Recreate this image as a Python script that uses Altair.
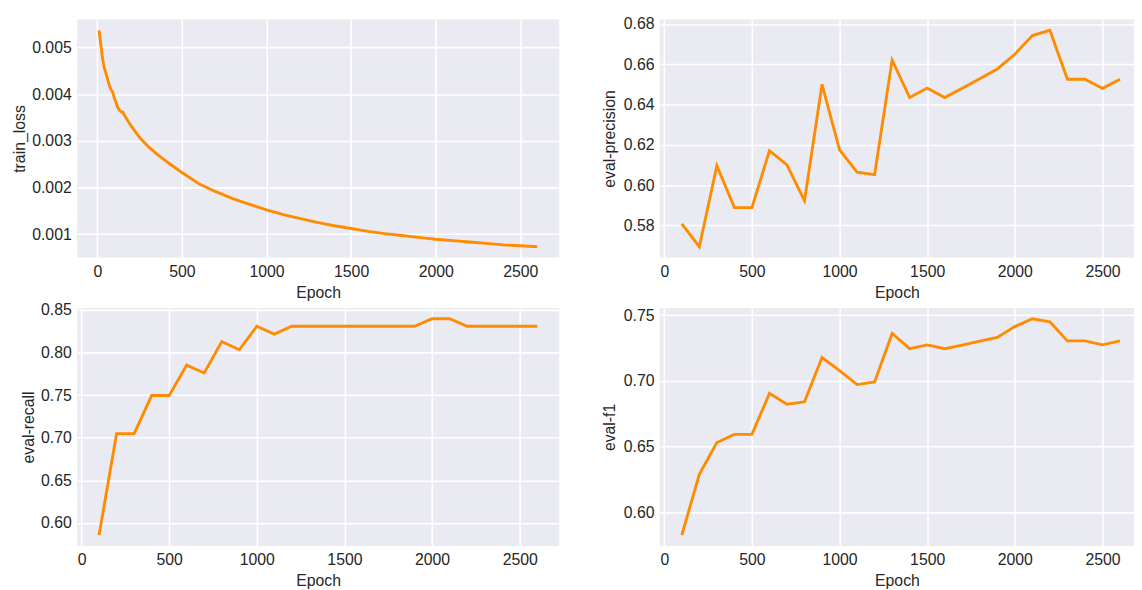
import altair as alt
import pandas as pd

# ---- data ----
loss_epoch = [10, 20, 30, 40, 50, 60, 70, 80, 90, 100, 110, 120, 130, 140, 150, 160, 180,
              200, 250, 300, 350, 400, 450, 500, 600, 700, 800, 900, 1000, 1100, 1200,
              1300, 1400, 1500, 1600, 1700, 1800, 1900, 2000, 2100, 2200, 2300, 2400,
              2500, 2600]
loss_value = [0.00537, 0.00508, 0.00478, 0.00458, 0.00446, 0.00433, 0.00420, 0.00410,
              0.00405, 0.00392, 0.00382, 0.00372, 0.00366, 0.00362, 0.00362, 0.00355,
              0.00343, 0.00332, 0.00307, 0.00288, 0.00272, 0.00258, 0.00245, 0.00232,
              0.00208, 0.00191, 0.00176, 0.00164, 0.00152, 0.00142, 0.00133, 0.00125,
              0.00118, 0.00112, 0.00106, 0.00101, 0.00097, 0.00093, 0.00089, 0.00086,
              0.00083, 0.00080, 0.00077, 0.00075, 0.00073]

eval_epoch = [100, 200, 300, 400, 500, 600, 700, 800, 900, 1000, 1100, 1200, 1300,
              1400, 1500, 1600, 1700, 1800, 1900, 2000, 2100, 2200, 2300, 2400, 2500, 2600]
precision = [0.5807, 0.5694, 0.6096, 0.5888, 0.5888, 0.6171, 0.6100, 0.5922, 0.6500,
             0.6175, 0.6064, 0.6052, 0.6621, 0.6435, 0.6482, 0.6435, 0.6481, 0.6528,
             0.6577, 0.6650, 0.6743, 0.6769, 0.6526, 0.6526, 0.6481, 0.6526]
recall = [0.5858, 0.7047, 0.7047, 0.7495, 0.7495, 0.7852, 0.7760, 0.8128, 0.8032,
          0.8308, 0.8216, 0.8308, 0.8308, 0.8308, 0.8308, 0.8308, 0.8308, 0.8308,
          0.8308, 0.8396, 0.8396, 0.8308, 0.8308, 0.8308, 0.8308, 0.8308]
f1 = [0.5827, 0.6290, 0.6531, 0.6593, 0.6593, 0.6905, 0.6823, 0.6841, 0.7178, 0.7079,
      0.6972, 0.6992, 0.7361, 0.7245, 0.7274, 0.7245, 0.7272, 0.7302, 0.7331, 0.7413,
      0.7473, 0.7450, 0.7304, 0.7304, 0.7274, 0.7304]

x_ticks = [0, 500, 1000, 1500, 2000, 2500]
loss_ticks = [0.001, 0.002, 0.003, 0.004, 0.005]
precision_ticks = [0.58, 0.60, 0.62, 0.64, 0.66, 0.68]
recall_ticks = [0.60, 0.65, 0.70, 0.75, 0.80, 0.85]
f1_ticks = [0.60, 0.65, 0.70, 0.75]

LINE = "#FF8C00"
TEXT = "#262626"
FONT = "Liberation Sans"
W, H = 488, 241
W_RIGHT = 480  # right column is cropped at the window edge


def margins(vals, frac=0.05):
    lo, hi = min(vals), max(vals)
    r = hi - lo
    return [lo - frac * r, hi + frac * r]


def panel(xs, ys, ytitle, yticks, yfmt, width, crop=1.0, ytp=4):
    xd = margins(xs)
    xd = [xd[0], xd[0] + (xd[1] - xd[0]) * crop]
    yd = margins(ys)
    df = pd.DataFrame({"Epoch": xs, "value": ys})
    return (
        alt.Chart(df)
        .mark_line(color=LINE, strokeWidth=2.9, clip=True)
        .encode(
            x=alt.X("Epoch:Q",
                    scale=alt.Scale(domain=xd, nice=False, zero=False),
                    axis=alt.Axis(values=x_ticks, format="d", title="Epoch",
                                  titlePadding=5)),
            y=alt.Y("value:Q",
                    scale=alt.Scale(domain=yd, nice=False, zero=False),
                    axis=alt.Axis(values=yticks, format=yfmt, title=ytitle,
                                  titlePadding=ytp)),
        )
        .properties(width=width, height=H)
    )


p1 = panel(loss_epoch, loss_value, "train_loss", loss_ticks, ".3f", W)
p2 = panel(eval_epoch, precision, "eval-precision", precision_ticks, ".2f", W_RIGHT,
           crop=W_RIGHT / W, ytp=6)
p3 = panel(eval_epoch, recall, "eval-recall", recall_ticks, ".2f", W)
p4 = panel(eval_epoch, f1, "eval-f1", f1_ticks, ".2f", W_RIGHT, crop=W_RIGHT / W,
           ytp=6)

chart = (
    alt.concat(p1, p2, p3, p4, columns=2, spacing={"row": 51, "column": 102},
               bounds="flush")
    .properties(padding={"left": 3, "top": 4, "right": 0, "bottom": 0},
                background="white")
    .configure_view(fill="#EAEAF2", strokeWidth=0)
    .configure_axis(
        grid=True, gridColor="white", gridWidth=1.6, domain=False, ticks=False,
        tickSize=0, labelFont=FONT, labelFontSize=16, labelColor=TEXT,
        labelPadding=6, labelFlush=False, titleFont=FONT, titleFontSize=16,
        titleFontWeight="normal", titleColor=TEXT,
    )
)

chart.save("out.html", embed_options={"renderer": "svg", "actions": False})
